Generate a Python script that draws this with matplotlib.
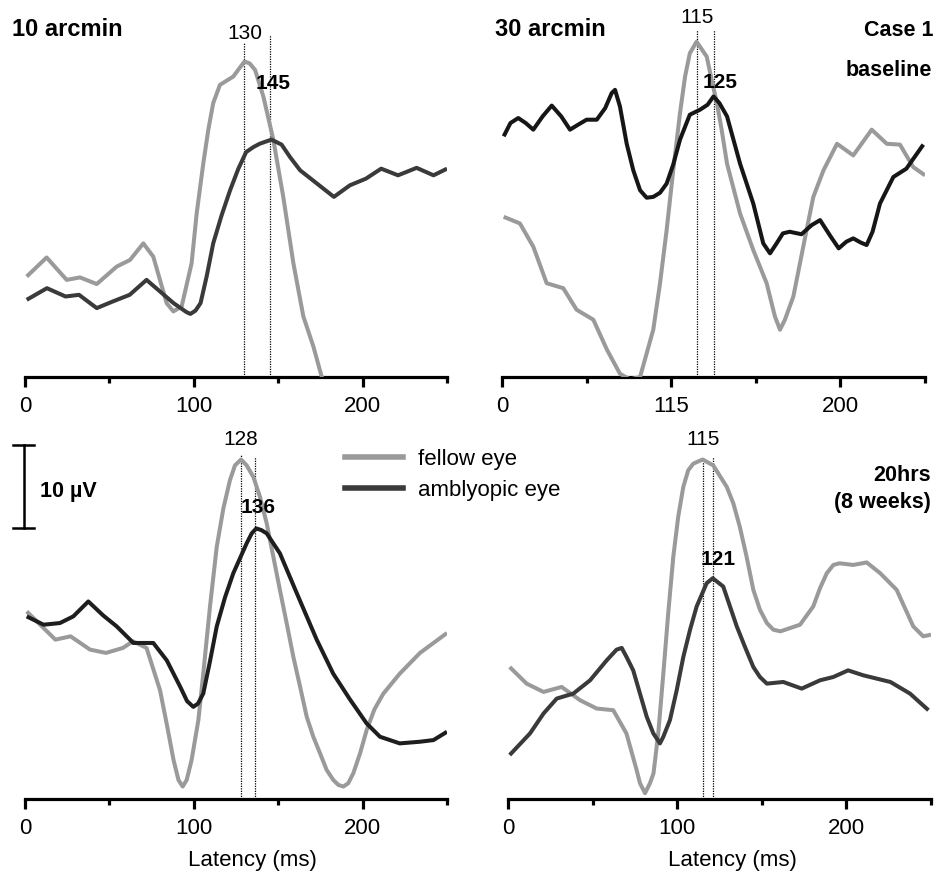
import matplotlib
matplotlib.use("Agg")
import matplotlib.pyplot as plt
from matplotlib.lines import Line2D

plt.rcParams['font.family'] = ['Liberation Sans', 'DejaVu Sans']

# latency (ms) and amplitude (uV above the axis line)
# top left: 10 arcmin, baseline
t1_fellow = [1, 12.8, 24.7, 32.6, 42.5, 54.3, 62.2, 70.1, 76, 83.9, 87.9, 92.8, 98.7, 101.7, 105.6,
             108.6, 111.5, 115.5, 123.4, 127, 130, 133, 136.3, 141.2, 147.1, 153, 159, 164.9,
             170.8, 176.5]
v1_fellow = [12.1, 14.4, 11.7, 12.0, 11.2, 13.3, 14.1, 16.1, 14.5, 8.9, 7.9, 8.5, 13.7, 19.7, 25.7,
             29.8, 33.0, 35.2, 36.2, 37.2, 38.0, 37.8, 37.0, 33.8, 28.6, 21.7, 13.7, 7.3, 3.7, -0.5]
t1_amb = [1, 13, 24, 32, 42.5, 52, 62, 72, 80, 88, 95.8, 98, 101, 104, 107.6, 111.5, 116.5, 121.5,
          126.4, 131, 135.3, 139, 146, 152, 157, 163, 173, 183, 192.5, 202, 211, 221, 232, 242, 250]
v1_amb = [9.3, 10.7, 9.7, 9.9, 8.3, 9.1, 9.9, 11.7, 10.3, 8.9, 7.8, 7.6, 8.0, 8.9, 12.1, 16.1, 19.5,
          22.5, 25.1, 27.1, 27.7, 28.1, 28.6, 28.0, 26.5, 24.9, 23.3, 21.7, 23.1, 23.9, 25.1, 24.3,
          25.2, 24.3, 25.1]

# top right: 30 arcmin, baseline
t2_fellow = [1, 10.6, 18.5, 26.4, 36.2, 44.1, 54, 62, 69.7, 75.6, 81.6, 89.4, 93.4, 97.3, 101.2,
             105.2, 108.2, 111, 115, 121, 123.9, 127, 129.8, 133, 140.7, 148.5, 156.4, 161.3, 164.3,
             167.2, 172.2, 176.1, 180, 184, 190, 198, 207.6, 218.5, 227.4, 235.2, 243, 250]
v2_fellow = [19.3, 18.5, 15.7, 11.3, 10.7, 8.1, 6.9, 3.3, 0.4, -0.3, 0, 5.7, 11.3, 17.7, 24.9,
             31.8, 36.2, 39.0, 40.4, 38.6, 35.8, 33.0, 29.8, 25.7, 19.7, 15.3, 11.3, 7.3, 5.7,
             6.9, 9.7, 13.7, 17.7, 21.7, 24.9, 28.1, 26.7, 29.8, 28.1, 28.0, 25.3, 24.3]
t2_amb = [1, 5, 9.6, 14, 18.5, 24, 29.4, 35, 40.2, 45, 50, 56, 61, 64.8, 66.8, 69.7, 73.7, 77.6,
          81.6, 85.5, 89.4, 93.4, 97.3, 101.2, 105.2, 111, 117, 121.5, 125, 128.5, 133, 140.7,
          148.5, 154.4, 158.4, 162.3, 166, 170, 177, 183, 188, 194, 199, 203.5, 207.6, 212, 215.5,
          219, 223.4, 231.3, 239, 249]
v2_amb = [29.0, 30.6, 31.2, 30.6, 29.8, 31.4, 32.7, 31.4, 29.8, 30.4, 31.0, 31.0, 32.4, 34.2, 34.6,
          32.6, 28.1, 24.9, 22.5, 21.6, 21.7, 22.2, 23.3, 25.6, 28.6, 31.6, 32.2, 32.8, 33.8, 33.0,
          31.4, 25.7, 20.9, 16.1, 14.9, 16.1, 17.3, 17.5, 17.2, 18.3, 18.9, 17.0, 15.5, 16.3, 16.7,
          16.2, 15.9, 17.5, 20.9, 24.1, 25.1, 28.0]

# bottom left: 10 arcmin, 20hrs
t3_fellow = [1, 9, 18, 27, 38.5, 48, 58, 64, 72, 80, 84, 88, 90.9, 93.4, 95.8, 98.7, 102.7, 105.6,
             109.6, 113.6, 117.5, 121.4, 124.4, 128, 131.3, 135.3, 139.2, 143.2, 147.1, 151, 155,
             159, 163, 166.9, 170.8, 174.8, 178.7, 182.6, 185.6, 188.6, 191.5, 194.5, 198.5, 202.4,
             207, 212.3, 222, 234, 250]
v3_fellow = [22.6, 21.0, 19.2, 19.6, 18.0, 17.6, 18.2, 19.0, 18.2, 13.1, 9.0, 4.7, 2.3, 1.5, 2.3,
             4.7, 9.5, 15.1, 23.2, 30.4, 35.0, 38.4, 40.2, 40.9, 40.2, 38.8, 36.4, 33.2, 29.2, 25.2,
             21.2, 17.1, 13.5, 9.9, 7.5, 5.5, 3.5, 2.3, 1.7, 1.5, 1.9, 3.1, 5.5, 8.3, 10.8, 12.7,
             15.1, 17.6, 20.0]
t3_amb = [1, 11, 20.7, 28.6, 37.5, 46.4, 54.3, 64.2, 76, 84, 92, 96, 99.7, 102.5, 105.6, 109.5,
          113.6, 118.5, 123.4, 131.3, 134.3, 137, 140, 143.2, 151, 161, 172.8, 182.6, 192.5, 202.4,
          210.3, 222, 234, 242, 250]
v3_amb = [22.0, 21.0, 21.2, 22.0, 23.8, 22.1, 20.8, 18.8, 18.8, 16.7, 13.5, 11.8, 11.1, 11.5, 12.7,
          16.5, 20.8, 24.3, 27.2, 30.8, 32.0, 32.6, 32.4, 32.0, 29.6, 24.8, 19.2, 15.1, 12.0, 9.1,
          7.5, 6.7, 6.9, 7.1, 8.1]

# bottom right: 30 arcmin, 20hrs
t4_fellow = [1, 11, 21, 31.7, 42.6, 52.4, 62.2, 70, 76, 78, 81, 83.9, 86, 88.8, 91.8, 94.7, 97.7,
             100.6, 103.6, 106.5, 109.5, 115, 121.3, 129.3, 133.2, 137, 141, 145, 148.9, 153, 156.8,
             161, 172.6, 180.4, 184.4, 188.4, 192.3, 196, 204, 212, 220, 229.7, 239.5, 245.4, 250]
v4_fellow = [15.9, 13.9, 12.9, 13.5, 11.9, 10.9, 10.7, 7.9, 3.5, 1.9, 0.7, 1.9, 3.1, 7.9, 15.1,
             22.4, 29.2, 34.0, 37.6, 39.6, 40.4, 40.9, 40.2, 37.6, 35.6, 32.8, 29.2, 25.2, 22.8,
             21.2, 20.4, 20.2, 21.0, 23.2, 25.4, 27.2, 28.2, 28.4, 28.2, 28.5, 27.2, 25.2, 20.8,
             19.6, 19.8]
t4_amb = [1, 13, 21, 28.8, 38.6, 48.5, 58.3, 64.2, 67.2, 70.1, 74, 82, 85.9, 89.8, 91.8, 95.7, 99.7,
          103.6, 107.6, 111.5, 117.4, 121, 127.2, 131.2, 135.2, 140.1, 145, 148.9, 153, 162.7,
          173.6, 184.4, 192.3, 201, 210, 218, 226, 237.6, 248.5]
v4_amb = [5.3, 7.9, 10.3, 12.1, 12.7, 14.3, 16.7, 18.0, 18.2, 17.1, 15.5, 9.9, 7.9, 6.7, 7.5, 9.5,
          13.1, 17.1, 20.4, 23.2, 26.0, 26.6, 25.6, 23.2, 20.8, 18.3, 15.9, 14.7, 13.9, 14.1, 13.3,
          14.3, 14.7, 15.5, 14.9, 14.5, 14.1, 12.7, 10.7]

# peak latencies (fellow, amblyopic)
peaks = [(130, 145), (115, 125), (128, 136), (115, 121)]
tick_labels = [["0", "100", "200"], ["0", "115", "200"], ["0", "100", "200"], ["0", "100", "200"]]

W, H = 944, 872
fig = plt.figure(figsize=(W / 100, H / 100), dpi=100)

px_per_uv = 8.3
ymax = 42
# left px, width px, axis-line px
boxes = [(25, 422, 377), (502, 423, 377), (25, 422, 799), (508, 423, 799)]
axes = []
for left, width, base in boxes:
    ax = fig.add_axes([left / W, (H - base) / H, width / W, ymax * px_per_uv / H])
    ax.set_xlim(0, 250)
    ax.set_ylim(0, ymax)
    for s in ["top", "right", "left"]:
        ax.spines[s].set_visible(False)
    ax.spines["bottom"].set_linewidth(2.3)
    ax.set_yticks([])
    ax.set_xticks([0, 100, 200])
    ax.set_xticks([50, 150, 250], minor=True)
    ax.tick_params(axis="x", which="major", length=7, width=2.3, labelsize=16, pad=7)
    ax.tick_params(axis="x", which="minor", length=4.5, width=2.3)
    ax.patch.set_visible(False)
    axes.append(ax)

gray = "#9a9a9a"
series = [
    (t1_fellow, v1_fellow, t1_amb, v1_amb, "#3a3a3a"),
    (t2_fellow, v2_fellow, t2_amb, v2_amb, "#161616"),
    (t3_fellow, v3_fellow, t3_amb, v3_amb, "#1e1e1e"),
    (t4_fellow, v4_fellow, t4_amb, v4_amb, "#3a3a3a"),
]

# top of dotted lines, label positions (uV)
dot_tops = [(40.2, 41.2), (41.8, 41.8), (41.4, 41.2), (41.2, 41.2)]
lab_pos = [((130, 41.4), (147, 35.4)), ((115, 43.3), (129, 35.5)),
           ((128, 43.3), (138, 35.1)), ((115, 43.3), (124, 28.8))]

for i, ax in enumerate(axes):
    tf, vf, ta, va, dark = series[i]
    ax.plot(tf, vf, color=gray, lw=2.9, solid_joinstyle="round", solid_capstyle="butt", zorder=3)
    ax.plot(ta, va, color=dark, lw=2.9, solid_joinstyle="round", solid_capstyle="butt", zorder=3)
    pf, pa = peaks[i]
    ax.plot([pf, pf], [0, dot_tops[i][0]], color="black", lw=0.9, ls=(0, (1, 1)), zorder=2)
    ax.plot([pa, pa], [0, dot_tops[i][1]], color="black", lw=0.9, ls=(0, (1, 1)), zorder=2)
    (xf, yf), (xa, ya) = lab_pos[i]
    ax.text(xf, yf, str(pf), ha="center", va="center", fontsize=15)
    ax.text(xa, ya, str(pa), ha="center", va="center", fontsize=15, fontweight="bold", zorder=4)
    ax.set_xticklabels(tick_labels[i])

axes[2].set_xlabel("Latency (ms)", fontsize=16)
axes[3].set_xlabel("Latency (ms)", fontsize=16)
axes[2].xaxis.set_label_coords(0.54, -0.145)
axes[3].xaxis.set_label_coords(0.53, -0.145)

# 10 uV scale bar in the bottom-left axes data units
sb = axes[2]
sb.plot([-0.6, -0.6], [32.65, 42.65], color="black", lw=1.8, clip_on=False)
sb.plot([-7.1, 5.3], [42.65, 42.65], color="black", lw=1.8, clip_on=False)
sb.plot([-7.1, 5.3], [32.65, 32.65], color="black", lw=1.8, clip_on=False)


def ftext(x, y, s, **kw):
    fig.text(x / W, 1 - y / H, s, va="center", **kw)


ftext(12, 30, "10 arcmin", fontsize=17, fontweight="bold")
ftext(495, 30, "30 arcmin", fontsize=17, fontweight="bold")
ftext(933, 30, "Case 1", fontsize=15.5, fontweight="bold", ha="right")
ftext(932, 70, "baseline", fontsize=15.5, fontweight="bold", ha="right")
ftext(931, 475, "20hrs", fontsize=15.5, fontweight="bold", ha="right")
ftext(931, 502, "(8 weeks)", fontsize=15.5, fontweight="bold", ha="right")
ftext(40, 492, "10 \u00b5V", fontsize=15.5, fontweight="bold")

handles = [Line2D([], [], color=gray, lw=4), Line2D([], [], color="#3a3a3a", lw=4)]
fig.legend(handles, ["fellow eye", "amblyopic eye"], loc="upper left",
           bbox_to_anchor=(345 / W, 1 - 449 / H), frameon=False, fontsize=16,
           borderpad=0, borderaxespad=0, handlelength=2.6, handletextpad=0.7,
           labelspacing=0.45)

fig.savefig("out.png", dpi=100)
